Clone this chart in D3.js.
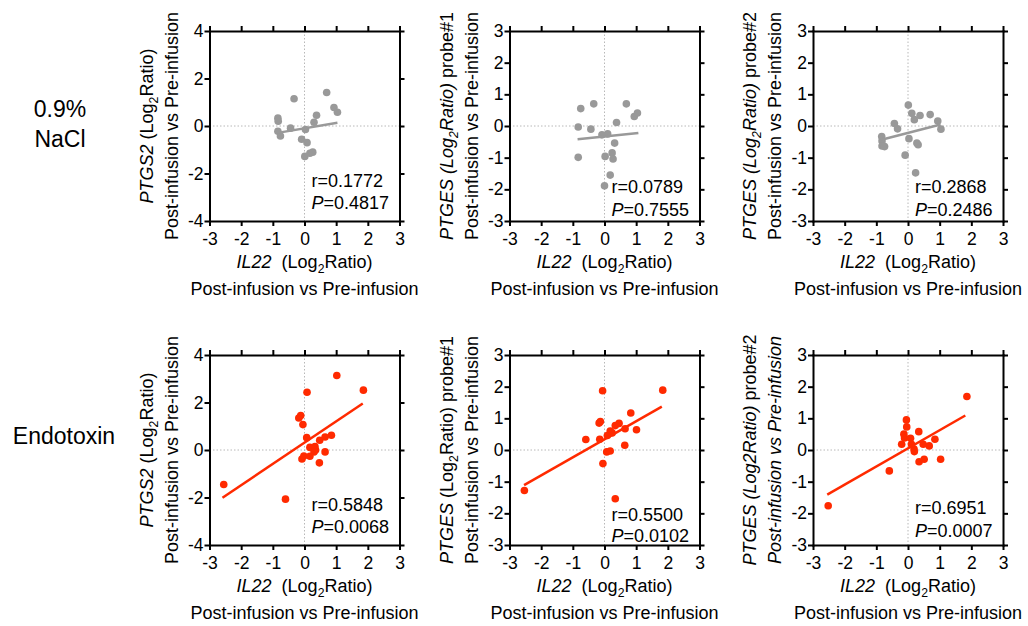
<!DOCTYPE html>
<html>
<head>
<meta charset="utf-8">
<script src="https://cdn.jsdelivr.net/npm/d3@7"></script>
<style>
  body { margin: 0; background: #fff; }
  text { font-family: "Liberation Sans", Arial, Helvetica, sans-serif; fill: #000; }
</style>
</head>
<body>
<svg id="chart" width="1028" height="626"></svg>
<script>
"use strict";

// IL22 log2 ratio (x) vs target log2 ratio (y)
const naclPtgs2 = [[-0.84, 0.33], [-0.83, 0.20], [-0.33, 1.15], [0.70, 1.41], [0.93, 0.78], [1.04, 0.58],
  [0.38, 0.45], [0.30, 0.16], [-0.84, -0.22], [-0.76, -0.42], [-0.44, -0.09], [0.03, -0.15], [-0.09, -0.56],
  [0.08, -0.70], [0.01, -1.28], [0.17, -1.15], [0.26, -1.10]];
const naclPtgesP1 = [[-0.75, 0.55], [-0.34, 0.70], [0.69, 0.70], [0.94, 0.30], [1.04, 0.41], [-0.83, -0.03],
  [-0.43, -0.10], [0.38, 0.11], [-0.08, -0.28], [0.10, -0.25], [0.32, -0.54], [-0.83, -0.99], [0.02, -0.96],
  [0.24, -0.85], [0.27, -1.04], [0.18, -1.55], [0.0, -1.89]];
const naclPtgesP2 = [[0.01, 0.66], [0.12, 0.40], [0.38, 0.33], [0.70, 0.36], [0.20, 0.20], [0.94, 0.16],
  [1.04, -0.10], [-0.43, 0.08], [-0.33, -0.09], [-0.83, -0.33], [-0.82, -0.47], [-0.82, -0.63], [-0.74, -0.65],
  [0.03, -0.40], [0.28, -0.54], [0.32, -0.59], [-0.09, -0.92], [0.24, -1.48]];
const endoPtgs2 = [[-2.55, -1.45], [-0.60, -2.07], [1.02, 3.14], [1.86, 2.52], [0.08, 2.43], [-0.18, 1.35],
  [-0.12, 1.45], [-0.05, 1.07], [0.07, 0.52], [0.48, 0.41], [0.65, 0.55], [0.85, 0.62], [0.17, 0.11],
  [0.33, 0.15], [0.35, 0.0], [0.30, -0.08], [0.65, -0.08], [-0.08, -0.38], [-0.02, -0.25], [0.17, -0.26],
  [0.47, -0.54]];
const endoPtgesP1 = [[-2.53, -1.28], [-0.06, 1.87], [1.84, 1.89], [0.83, 1.17], [-0.17, 0.85], [-0.13, 0.90],
  [-0.59, 0.33], [-0.15, 0.34], [0.34, 0.77], [0.46, 0.84], [0.18, 0.60], [0.09, 0.46], [0.24, 0.54],
  [0.65, 0.67], [1.01, 0.64], [0.64, 0.15], [0.07, -0.06], [0.18, -0.03], [-0.05, -0.43], [0.34, -1.54]];
const endoPtgesP2 = [[-2.52, -1.76], [1.86, 1.69], [-0.05, 0.95], [-0.04, 0.73], [-0.13, 0.50], [-0.11, 0.38],
  [-0.20, 0.18], [0.08, 0.37], [0.34, 0.58], [0.85, 0.34], [0.67, 0.13], [0.48, 0.18], [0.11, 0.18],
  [0.19, 0.03], [0.20, -0.05], [0.51, -0.29], [0.35, -0.37], [1.03, -0.29], [-0.59, -0.66]];

// fitted lines, start and end points
const fitLines = [
  [[-0.85, -0.29], [1.04, 0.14]],
  [[-0.85, -0.42], [1.07, -0.22]],
  [[-0.87, -0.44], [1.03, 0.05]],
  [[-2.59, -2.01], [1.84, 1.96]],
  [[-2.54, -1.11], [1.81, 1.37]],
  [[-2.55, -1.41], [1.81, 1.09]]
];

const rValues = ["0.1772", "0.0789", "0.2868", "0.5848", "0.5500", "0.6951"];
const pValues = ["0.4817", "0.7555", "0.2486", "0.0068", "0.0102", "0.0007"];

const xTicks = [-3, -2, -1, 0, 1, 2, 3];
const ptgs2Ticks = [-4, -2, 0, 2, 4];
const ptgesTicks = [-3, -2, -1, 0, 1, 2, 3];

const rowLabels = [["0.9%", "NaCl"], ["Endotoxin"]];

// y-axis titles: two lines each, made of pieces (i = italic, sub = subscript)
const yTitles = [
  [[{t: "PTGS2", i: 1}, {t: " (Log"}, {t: "2", sub: 1}, {t: "Ratio)"}], [{t: "Post-infusion vs Pre-infusion"}]],
  [[{t: "PTGES (Log", i: 1}, {t: "2", i: 1, sub: 1}, {t: "Ratio)", i: 1}, {t: " probe#1"}], [{t: "Post-infusion vs Pre-infusion"}]],
  [[{t: "PTGES (Log", i: 1}, {t: "2", i: 1, sub: 1}, {t: "Ratio)", i: 1}, {t: " probe#2"}], [{t: "Post-infusion vs Pre-infusion"}]],
  [[{t: "PTGS2", i: 1}, {t: " (Log"}, {t: "2", sub: 1}, {t: "Ratio)"}], [{t: "Post-infusion vs Pre-infusion"}]],
  [[{t: "PTGES", i: 1}, {t: " (Log"}, {t: "2", sub: 1}, {t: "Ratio)"}, {t: " probe#1"}], [{t: "Post-infusion vs Pre-infusion"}]],
  [[{t: "PTGES (Log2Ratio)", i: 1}, {t: " probe#2"}], [{t: "Post-infusion vs Pre-infusion", i: 1}]]
];
const xTitle = [[{t: "IL22", i: 1}, {t: "\u00a0 (Log"}, {t: "2", sub: 1}, {t: "Ratio)"}], [{t: "Post-infusion vs Pre-infusion"}]];

const panelData = [naclPtgs2, naclPtgesP1, naclPtgesP2, endoPtgs2, endoPtgesP1, endoPtgesP2];
const colors = ["#999999", "#ff2a00"];

// layout
const lefts = [209.5, 509.5, 813];
const tops = [31, 355];
const W = 190, H = 190;
const statTops = [[156, 178], [162, 185], [162, 184.5], [156, 177.5], [165.5, 187], [159, 181.5]];

let svg = d3.select('#chart');

function addPieces(text, pieces, size) {
  pieces.forEach((p, n) => {
    let ts = text.append('tspan')
                 .text(p.t)
                 .attr('font-style', p.i ? 'italic' : 'normal');
    if (p.sub) {
      ts.attr('font-size', size * 0.68).attr('dy', 5);
    } else if (n > 0 && pieces[n - 1].sub) {
      ts.attr('dy', -5);  // undo the subscript shift
    }
  });
}

panelData.forEach((data, k) => {
  let row = Math.floor(k / 3), col = k % 3;
  let color = colors[row];
  let yt = (col === 0) ? ptgs2Ticks : ptgesTicks;
  let g = svg.append('g')
             .attr('transform', `translate(${lefts[col]},${tops[row]})`);

  let x = d3.scaleLinear().domain([-3, 3]).range([0, W]);
  let y = d3.scaleLinear().domain([yt[0], yt[yt.length - 1]]).range([H, 0]);

  // dotted zero lines
  g.append('line')
   .attr('x1', x(0)).attr('x2', x(0)).attr('y1', 0).attr('y2', H)
   .attr('stroke', '#b8b8b8').attr('stroke-width', 1).attr('stroke-dasharray', '1.5,2');
  g.append('line')
   .attr('x1', 0).attr('x2', W).attr('y1', y(0)).attr('y2', y(0))
   .attr('stroke', '#b8b8b8').attr('stroke-width', 1).attr('stroke-dasharray', '1.5,2');

  g.append('g')
   .selectAll('circle')
   .data(data)
   .enter()
   .append('circle')
   .attr('cx', d => x(d[0]))
   .attr('cy', d => y(d[1]))
   .attr('r', 3.8)
   .attr('fill', color);

  g.append('path')
   .attr('d', d3.line().x(d => x(d[0])).y(d => y(d[1]))(fitLines[k]))
   .attr('stroke', color)
   .attr('stroke-width', 2.5)
   .attr('fill', 'none');

  // frame with ticks on all four sides
  let fmt = d => String(d);
  g.append('g').attr('transform', `translate(0,${H})`)
   .call(d3.axisBottom(x).tickValues(xTicks).tickSize(5).tickSizeOuter(0).tickPadding(7).tickFormat(fmt));
  g.append('g')
   .call(d3.axisTop(x).tickValues(xTicks).tickSize(5).tickSizeOuter(0).tickFormat(''));
  g.append('g')
   .call(d3.axisLeft(y).tickValues(yt).tickSize(5).tickSizeOuter(0).tickPadding(1).tickFormat(fmt));
  g.append('g').attr('transform', `translate(${W},0)`)
   .call(d3.axisRight(y).tickValues(yt).tickSize(5).tickSizeOuter(0).tickFormat(''));
  g.selectAll('.domain')
   .attr('stroke', '#000').attr('stroke-width', 2).attr('stroke-linecap', 'square');
  g.selectAll('.tick line')
   .attr('stroke', '#000').attr('stroke-width', 2);
  g.selectAll('.tick text')
   .attr('font-family', null).attr('font-size', 17.5).attr('fill', '#000');

  // stats
  g.append('text').attr('x', 102).attr('y', statTops[k][0]).attr('font-size', 18)
   .text('r=' + rValues[k]);
  let p = g.append('text').attr('x', 102).attr('y', statTops[k][1]).attr('font-size', 18);
  p.append('tspan').attr('font-style', 'italic').text('P');
  p.append('tspan').text('=' + pValues[k]);

  // x title
  xTitle.forEach((line, j) => {
    let t = g.append('text')
             .attr('x', W / 2)
             .attr('y', H + 47 + j * 27)
             .attr('text-anchor', 'middle')
             .attr('font-size', 18);
    addPieces(t, line, 18);
  });

  // y title (rotated)
  yTitles[k].forEach((line, j) => {
    let t = g.append('text')
             .attr('transform', `translate(${-57 + j * 25},${H / 2}) rotate(-90)`)
             .attr('text-anchor', 'middle')
             .attr('font-size', 18);
    addPieces(t, line, 18);
  });
});

// row labels
svg.append('text').attr('x', 60).attr('y', 117).attr('text-anchor', 'middle')
   .attr('font-size', 23).text(rowLabels[0][0]);
svg.append('text').attr('x', 60).attr('y', 147).attr('text-anchor', 'middle')
   .attr('font-size', 23).text(rowLabels[0][1]);
svg.append('text').attr('x', 64).attr('y', 444).attr('text-anchor', 'middle')
   .attr('font-size', 23).text(rowLabels[1][0]);
</script>
</body>
</html>
